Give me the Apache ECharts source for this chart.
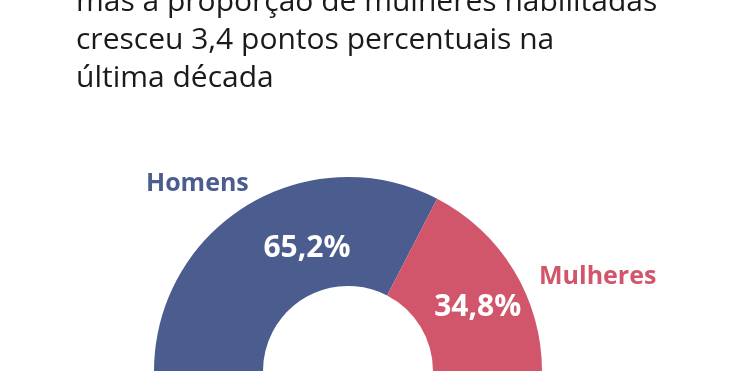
<!DOCTYPE html>
<html>
<head>
<meta charset="utf-8">
<script src="https://cdn.jsdelivr.net/npm/echarts@6/dist/echarts.min.js"></script>
<style>html,body{margin:0;padding:0;background:#fff;}#c{width:750px;height:375px;}</style>
</head>
<body>
<div id="c"></div>
<script>
var titleLines = ['mas a proporção de mulheres habilitadas', 'cresceu 3,4 pontos percentuais na', 'última década'];
var categories = ['Homens', 'Mulheres'];
var values = [65.2, 34.8];
var valueLabels = ['65,2%', '34,8%'];
var colors = ['#4b5d8f', '#d2566b'];

var chart = echarts.init(document.getElementById('c'));
var total = values.reduce(function (a, b) { return a + b; }, 0);
var data = categories.map(function (c, i) {
  return {
    name: c, value: values[i],
    itemStyle: { color: colors[i] },
    label: { offset: i === 0 ? [33, -1] : [8, 11] }
  };
});
data.push({ name: '', value: total, itemStyle: { color: 'transparent' }, label: { show: false }, emphasis: { disabled: true }, tooltip: { show: false } });

chart.setOption({
  animation: false,
  title: {
    text: titleLines.join('\n'),
    left: 71, top: -22,
    textStyle: { fontFamily: 'Open Sans', fontWeight: 'normal', fontSize: 30, lineHeight: 38, color: '#1a1a1a' }
  },
  graphic: [
    { type: 'text', left: 146, top: 171, style: { text: categories[0], fontFamily: 'Open Sans', fontWeight: 'bold', fontSize: 25, fill: colors[0] } },
    { type: 'text', left: 539, top: 264, style: { text: categories[1], fontFamily: 'Open Sans', fontWeight: 'bold', fontSize: 25, fill: colors[1] } }
  ],
  series: [{
    type: 'pie',
    center: [348, 371],
    radius: [85, 194],
    startAngle: 180,
    clockwise: true,
    silent: true,
    label: {
      show: true, position: 'inside',
      formatter: function (p) { return valueLabels[p.dataIndex]; },
      fontFamily: 'Open Sans', fontWeight: 'bold', fontSize: 30, color: '#fff'
    },
    labelLine: { show: false },
    data: data
  }]
});
</script>
</body>
</html>
